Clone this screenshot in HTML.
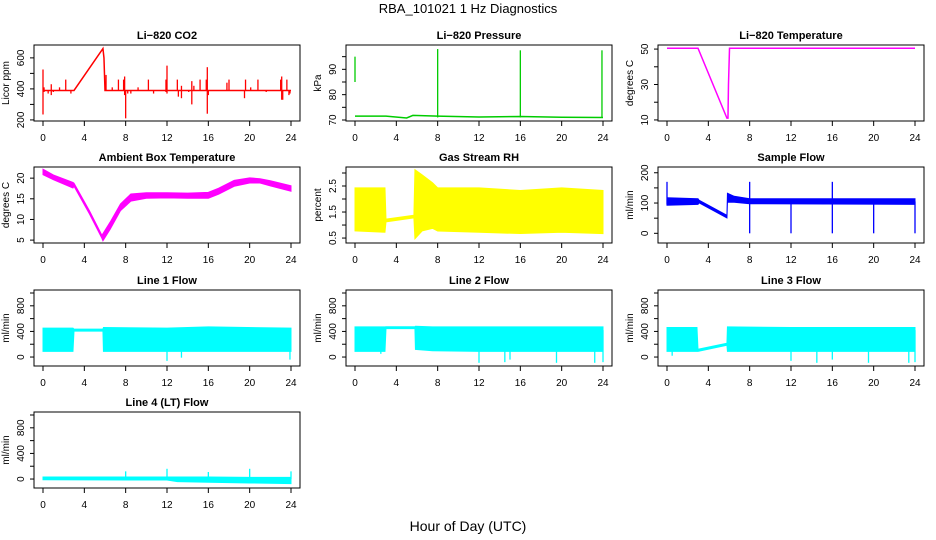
<!DOCTYPE html>
<html><head><meta charset="utf-8"><style>
html,body{margin:0;padding:0;background:#fff;}
svg{display:block;font-family:"Liberation Sans",Arial,sans-serif;}
</style></head><body>
<svg id="chart" width="936" height="540" viewBox="0 0 936 540" xmlns="http://www.w3.org/2000/svg">
<text x="468" y="13" text-anchor="middle" font-size="13">RBA_101021  1 Hz Diagnostics</text>
<text x="468" y="531" text-anchor="middle" font-size="14">Hour of Day (UTC)</text>
</svg>
<script>
// ---- data arrays (hours, values) ----
const xTicks = [0,4,8,12,16,20,24];

const co2Line = [[0,390],[3,390],[5.8,660],[5.9,600],[6,390],[24,390]];
const co2Spikes = [[0,235,525],[0.1,380,410],[0.5,370,390],[0.8,360,430],[1,380,390],[1.6,390,410],[2.2,390,460],[2.7,370,390],[6.1,390,490],[6.7,390,410],[7.3,390,460],[7.8,390,460],[7.9,360,480],[8,210,390],[8.2,370,390],[8.5,370,390],[9.2,390,410],[10.2,390,460],[10.7,370,390],[11.9,380,460],[12,370,550],[13,390,460],[13.1,350,390],[13.4,340,420],[14.1,380,390],[14.4,300,450],[14.6,390,420],[15.2,390,460],[15.8,390,460],[15.9,240,540],[16,360,390],[17.8,390,440],[18,390,460],[19.5,340,390],[19.6,390,460],[20.1,390,410],[20.8,390,460],[21.6,380,390],[23,390,460],[23.1,330,480],[23.2,330,390],[23.6,390,460],[23.8,360,390],[23.9,370,390]];

const presLine = [[0,71.5],[3,71.5],[5,70.8],[5.6,71.8],[8,71.5],[12,71.2],[16,71.4],[20,71.1],[24,71]];
const presSpikes = [[0,85,95],[8,71,98],[16,71,97.5],[23.9,71,97.5]];

const tempLine = [[0,50.5],[3,50.5],[5.8,11],[5.9,11],[5.95,30],[6.05,50.5],[24,50.5]];

const ambBand = [[0,21,22],[1,19.8,20.6],[2.9,17.8,18.8],[3,18.2,18.6],[4.5,11.5,11.9],[5.7,5.6,6],[5.8,5,6.4],[6.5,7.8,9.2],[7.5,12.3,13.6],[8.5,14.6,16],[10,15.3,16.3],[12,15.4,16.3],[14,15.3,16.2],[16,15.3,16.4],[17,16.3,17.4],[18.5,18.2,19.3],[20,19,19.9],[21,19,19.7],[22,18.3,19.2],[24,17,18]];

const rhBand = [[0,0.8,2.4],[2.9,0.75,2.4],[3,1.15,1.2],[5.7,1.3,1.35],[5.8,0.5,3.1],[6.5,0.8,2.9],[7.5,0.9,2.6],[8,0.8,2.4],[12,0.75,2.4],[16,0.7,2.3],[20,0.75,2.4],[24,0.7,2.3]];

const flowBand = [[0,95,115],[3,98,112],[3.1,103,107],[5.8,53,57],[5.85,105,130],[6.5,105,120],[8,100,112],[24,98,112]];
const flowSpikes = [[0,95,170],[8,0,170],[12,0,105],[16,0,170],[20,0,105],[24,0,105]];

const line1Band = [[0,100,440],[2.9,100,440],[3,415,425],[5.8,415,425],[5.85,100,450],[12,100,440],[16,100,460],[24,100,440]];
const line1Spikes = [[12,-60,100],[13.4,-10,100],[23.9,-40,370]];

const line2Band = [[0,100,460],[2.9,100,460],[3,455,462],[5.8,455,462],[5.85,130,470],[7.5,110,460],[12,100,460],[24,100,460]];
const line2Spikes = [[2.5,50,100],[12,-90,100],[14.5,-80,100],[15,-40,100],[19.5,-90,100],[23.2,-90,100],[24,-80,420]];

const line3Band = [[0,100,450],[2.9,100,450],[3,100,110],[5.8,195,205],[5.85,100,460],[12,100,450],[24,100,450]];
const line3Spikes = [[0.5,20,100],[12,-60,100],[14.5,-90,100],[16,-40,100],[19.5,-90,100],[23.4,-90,100],[24,-80,420]];

const line4Band = [[0,0,20],[12,-5,20],[13,-30,20],[16,-40,20],[20,-50,15],[24,-60,15]];
const line4Spikes = [[8,0,120],[12,0,160],[16,0,110],[20,0,160],[24,0,120]];

// ---- layout ----
const svg = document.getElementById('chart');
const NS = 'http://www.w3.org/2000/svg';
function mk(tag, attrs, parent){const e=document.createElementNS(NS,tag);for(const k in attrs)e.setAttribute(k,attrs[k]);(parent||svg).appendChild(e);return e;}

const cols=[34,346,658], rows=[45,167,290,412], W=266, H=76;

const panels = [
 {name:'li820-co2',title:'Li\u2212820 CO2',yl:'Licor ppm',c:0,r:0,ylim:[193,683],ticks:[200,300,400,500,600],labels:[200,400,600],color:'#ff0000',series:[['line',co2Line],['spike',co2Spikes]]},
 {name:'li820-pressure',title:'Li\u2212820 Pressure',yl:'kPa',c:1,r:0,ylim:[69.6,99.6],ticks:[70,75,80,85,90,95],labels:[70,80,90],color:'#00cc00',series:[['line',presLine],['spike',presSpikes]]},
 {name:'li820-temperature',title:'Li\u2212820 Temperature',yl:'degrees C',c:2,r:0,ylim:[9.4,52.3],ticks:[10,20,30,40,50],labels:[10,30,50],color:'#ff00ff',series:[['line',tempLine]]},
 {name:'ambient-box-temperature',title:'Ambient Box Temperature',yl:'degrees C',c:0,r:1,ylim:[4.3,22.7],ticks:[5,10,15,20],labels:[5,10,15,20],color:'#ff00ff',series:[['band',ambBand]]},
 {name:'gas-stream-rh',title:'Gas Stream RH',yl:'percent',c:1,r:1,ylim:[0.31,3.23],ticks:[0.5,1,1.5,2,2.5,3],labels:[0.5,1.5,2.5],color:'#ffff00',series:[['band',rhBand]]},
 {name:'sample-flow',title:'Sample Flow',yl:'ml/min',c:2,r:1,ylim:[-32,219],ticks:[0,50,100,150,200],labels:[0,100,200],color:'#0000ff',series:[['band',flowBand],['spike',flowSpikes]]},
 {name:'line1-flow',title:'Line 1 Flow',yl:'ml/min',c:0,r:2,ylim:[-140,1047],ticks:[0,200,400,600,800,1000],labels:[0,400,800],color:'#00ffff',series:[['band',line1Band],['spike',line1Spikes]]},
 {name:'line2-flow',title:'Line 2 Flow',yl:'ml/min',c:1,r:2,ylim:[-140,1047],ticks:[0,200,400,600,800,1000],labels:[0,400,800],color:'#00ffff',series:[['band',line2Band],['spike',line2Spikes]]},
 {name:'line3-flow',title:'Line 3 Flow',yl:'ml/min',c:2,r:2,ylim:[-140,1047],ticks:[0,200,400,600,800,1000],labels:[0,400,800],color:'#00ffff',series:[['band',line3Band],['spike',line3Spikes]]},
 {name:'line4-flow',title:'Line 4 (LT) Flow',yl:'ml/min',c:0,r:3,ylim:[-140,1047],ticks:[0,200,400,600,800,1000],labels:[0,400,800],color:'#00ffff',series:[['band',line4Band],['spike',line4Spikes]]}
];

panels.forEach(p=>{
  const L=cols[p.c], T=rows[p.r], B=T+H, R=L+W;
  const g=mk('g',{});
  
  
  const xs=t=>L+9+t*(W-18)/24;
  const ys=v=>B-(v-p.ylim[0])/(p.ylim[1]-p.ylim[0])*H;
  const cl='clip-'+p.name;
  const cp=mk('clipPath',{id:cl},g); mk('rect',{x:L,y:T,width:W,height:H},cp);
  const dg=mk('g',{'clip-path':'url(#'+cl+')'},g);
  p.series.forEach(([type,arr])=>{
    if(type==='line'){
      const pl=mk('polyline',{points:arr.map(d=>xs(d[0])+','+ys(d[1])).join(' '),fill:'none',stroke:p.color,'stroke-width':1.5},dg);
      
      
    } else if(type==='band'){
      const up=arr.map(d=>xs(d[0])+','+(ys(d[2])-0.7));
      const lo=arr.slice().reverse().map(d=>xs(d[0])+','+(ys(d[1])+0.7));
      const pg=mk('polygon',{points:up.concat(lo).join(' '),fill:p.color,stroke:p.color,'stroke-width':1},dg);
      
      
    } else {
      arr.forEach(d=>{
        const ln=mk('line',{x1:xs(d[0]),x2:xs(d[0]),y1:ys(d[1]),y2:ys(d[2]),stroke:p.color,'stroke-width':1.3},dg);
        
        
      });
    }
  });
  const box=mk('rect',{x:L,y:T,width:W,height:H,fill:'none',stroke:'#000','stroke-width':1},g);
  
  
  const tt=mk('text',{x:L+W/2,y:T-6,'text-anchor':'middle','font-size':11,'font-weight':'bold'},g);
  tt.textContent=p.title;
  
  
  const yl=mk('text',{transform:'translate('+(L-25)+','+(T+H/2)+') rotate(-90)','text-anchor':'middle','font-size':10},g);
  yl.textContent=p.yl;
  
  
  xTicks.forEach(t=>{
    mk('line',{x1:xs(t),x2:xs(t),y1:B,y2:B+5,stroke:'#000'},g);
    const tx=mk('text',{x:xs(t),y:B+20,'text-anchor':'middle','font-size':10},g);
    tx.textContent=t;
    
    
  });
  p.ticks.forEach(v=>{
    mk('line',{x1:L-4,x2:L,y1:ys(v),y2:ys(v),stroke:'#000'},g);
  });
  p.labels.forEach(v=>{
    const ty=mk('text',{transform:'translate('+(L-10)+','+ys(v)+') rotate(-90)','text-anchor':'middle','font-size':10},g);
    ty.textContent=v;
    
    
  });
});
</script>
</body></html>
